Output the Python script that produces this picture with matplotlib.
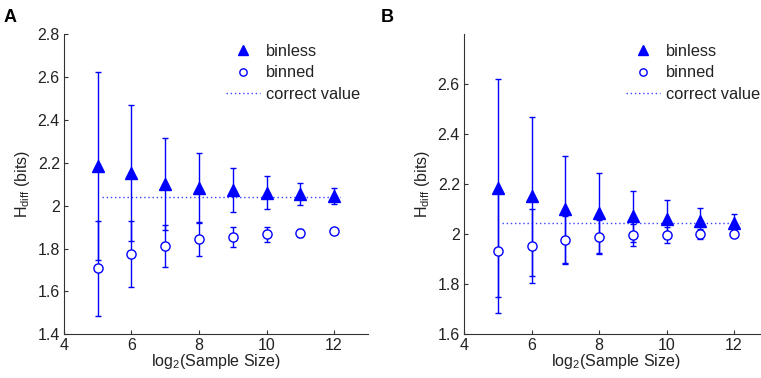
import matplotlib
matplotlib.use("Agg")
import matplotlib.pyplot as plt
import numpy as np

plt.rcParams['font.family'] = ['Liberation Sans', 'DejaVu Sans']
plt.rcParams['mathtext.fontset'] = 'custom'
plt.rcParams['mathtext.rm'] = 'Liberation Sans'
plt.rcParams['mathtext.it'] = 'Liberation Sans:italic'

TXT = '#222222'

x = [5, 6, 7, 8, 9, 10, 11, 12]

# Panel A
binless_A = [2.185, 2.152, 2.100, 2.084, 2.073, 2.061, 2.053, 2.045]
binless_A_err = [0.437, 0.317, 0.215, 0.160, 0.102, 0.076, 0.051, 0.036]
binned_A = [1.708, 1.775, 1.812, 1.843, 1.856, 1.867, 1.873, 1.882]
binned_A_err = [0.221, 0.152, 0.096, 0.076, 0.047, 0.036, 0.020, 0.010]
correct_A = 2.042

# Panel B
binless_B = [2.185, 2.152, 2.100, 2.084, 2.073, 2.061, 2.053, 2.045]
binless_B_err = [0.437, 0.317, 0.215, 0.160, 0.102, 0.076, 0.051, 0.036]
binned_B = [1.935, 1.955, 1.977, 1.989, 1.997, 1.998, 2.000, 2.000]
binned_B_err = [0.251, 0.148, 0.097, 0.069, 0.043, 0.033, 0.020, 0.012]
correct_B = 2.044

correct_x = [5.12, 12.18]

W, H = 761, 378
fig = plt.figure(figsize=(W / 100, H / 100), dpi=100)

def make_panel(left_px, ylim, yticks, binless, binless_err, binned, binned_err, correct, letter, letter_x):
    ax = fig.add_axes([left_px / W, (H - 334.3) / H, 303.75 / W, 300 / H])
    ax.errorbar(x, binless, yerr=binless_err, fmt='none', ecolor='blue', elinewidth=1.0,
                capsize=2, capthick=1.0, zorder=2)
    ax.errorbar(x, binned, yerr=binned_err, fmt='none', ecolor='blue', elinewidth=1.0,
                capsize=2, capthick=1.0, zorder=2)
    ax.plot(correct_x, [correct, correct], linestyle=(0, (1, 2)), color='#3344ff', lw=1.0,
            label='correct value', zorder=1)
    ax.plot(x, binless, linestyle='none', marker='^', markersize=8.5, color='blue',
            markeredgecolor='blue', label='binless', zorder=3)
    ax.plot(x, binned, linestyle='none', marker='o', markersize=6.6, markerfacecolor='white',
            markeredgecolor='blue', markeredgewidth=1.0, label='binned', zorder=3)
    ax.set_xlim(4, 13)
    ax.set_ylim(*ylim)
    ax.set_xticks([4, 6, 8, 10, 12])
    ax.set_yticks(yticks)
    ax.set_yticklabels([('%g' % t) for t in yticks])
    ax.spines['top'].set_visible(False)
    ax.spines['right'].set_visible(False)
    for s in ('left', 'bottom'):
        ax.spines[s].set_linewidth(0.8)
        ax.spines[s].set_color('#333333')
    ax.tick_params(direction='in', length=3, width=0.8, labelsize=11.5, pad=3,
                   color='#333333', labelcolor=TXT)
    ax.set_xlabel('log$_2$(Sample Size)', fontsize=11.5, labelpad=-1, color=TXT)
    ax.set_ylabel('H$_{\\mathrm{diff}}$ (bits)', fontsize=11.5, labelpad=4, color=TXT)
    handles, labels = ax.get_legend_handles_labels()
    order = [1, 2, 0]
    leg = ax.legend([handles[i] for i in order], [labels[i] for i in order], frameon=False,
                    loc='upper left', bbox_to_anchor=(0.5, 1.0), fontsize=11.8, handlelength=2.1,
                    handletextpad=0.35, labelspacing=0.38, borderaxespad=0.2, markerscale=0.8)
    for t in leg.get_texts():
        t.set_color(TXT)
    fig.text(letter_x / W, 1 - 17 / H, letter, fontsize=13, fontweight='bold', va='center',
             ha='left', color='black')
    return ax

make_panel(64, (1.4, 2.8), [1.4, 1.6, 1.8, 2.0, 2.2, 2.4, 2.6, 2.8],
           binless_A, binless_A_err, binned_A, binned_A_err, correct_A, 'A', 4)
make_panel(464, (1.6, 2.8), [1.6, 1.8, 2.0, 2.2, 2.4, 2.6],
           binless_B, binless_B_err, binned_B, binned_B_err, correct_B, 'B', 381)

fig.savefig('out.png', dpi=100)
